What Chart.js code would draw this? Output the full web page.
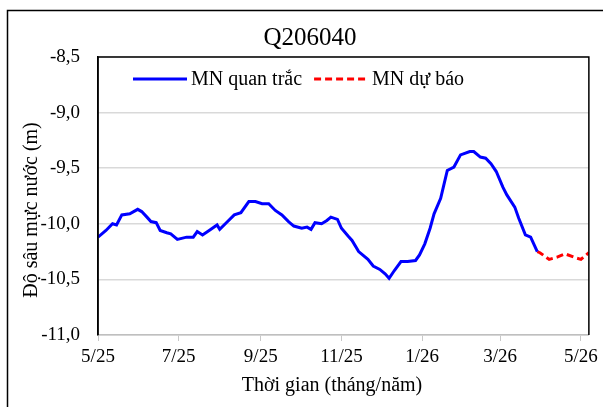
<!DOCTYPE html>
<html>
<head>
<meta charset="utf-8">
<script src="https://cdn.jsdelivr.net/npm/chart.js@4.4.0/dist/chart.umd.min.js"></script>
<style>
  html, body { margin: 0; padding: 0; background: #fff; }
</style>
</head>
<body>
<canvas id="chart" width="603" height="407"></canvas>
<script>
// so ngay tinh tu 1/5/2025
const obsDays = [0, 6, 11, 14, 18, 24, 30, 33, 37, 40, 44, 47, 52, 55, 60, 67, 72, 75, 79, 84,
  90, 92, 97, 103, 108, 114, 119, 124, 129, 134, 139, 144, 148, 154, 158, 161, 164, 169, 173, 176,
  181, 184, 189, 192, 197, 204, 208, 213, 217, 220, 224, 229, 234, 240, 243, 247, 251, 254, 259, 261,
  264, 269, 274, 281, 284, 289, 293, 297, 301, 306, 309, 315, 318, 323, 327, 332];
const obsValues = [-10.12, -10.06, -10.00, -10.01, -9.92, -9.91, -9.87, -9.89, -9.94, -9.98, -9.99, -10.06, -10.08, -10.09, -10.14, -10.12, -10.12, -10.07, -10.10, -10.06,
  -10.01, -10.05, -9.99, -9.92, -9.90, -9.80, -9.80, -9.82, -9.82, -9.88, -9.92, -9.98, -10.02, -10.04, -10.03, -10.05, -9.99, -10.00, -9.97, -9.94,
  -9.96, -10.04, -10.11, -10.15, -10.25, -10.32, -10.38, -10.41, -10.45, -10.49, -10.42, -10.34, -10.34, -10.33, -10.28, -10.18, -10.04, -9.91, -9.77, -9.67,
  -9.52, -9.49, -9.38, -9.35, -9.35, -9.40, -9.41, -9.46, -9.53, -9.67, -9.74, -9.85, -9.95, -10.10, -10.12, -10.25];

const fcDays = [332, 334, 341, 347, 353, 362, 365, 371];
const fcValues = [-10.25, -10.26, -10.32, -10.30, -10.27, -10.31, -10.32, -10.26];

const tickDays = [0, 61, 123, 184, 245, 304, 365];
const tickLabels = ["5/25", "7/25", "9/25", "11/25", "1/26", "3/26", "5/26"];
const seriesNames = ["MN quan trắc", "MN dự báo"];

const chartTitle = "Q206040";
const xTitle = "Thời gian (tháng/năm)";
const yTitle = "Độ sâu mực nước (m)";

const FONT = "'Liberation Serif', 'Times New Roman', serif";

function toPoints(days, vals) {
  return days.map((d, i) => ({ x: d, y: vals[i] }));
}

// khung, tieu de, chu thich
const decor = {
  id: "decor",
  beforeDraw(chart) {
    const c = chart.ctx;
    c.save();
    c.strokeStyle = "#000";
    c.lineWidth = 1.5;
    c.beginPath();
    c.moveTo(7.5, 407);
    c.lineTo(7.5, 10.5);
    c.lineTo(603, 10.5);
    c.stroke();
    c.restore();
  },
  afterDraw(chart) {
    const c = chart.ctx;
    const a = chart.chartArea;
    c.save();
    c.strokeStyle = "#000";
    c.lineWidth = 1.5;
    c.beginPath();
    c.moveTo(a.left, a.bottom);
    c.lineTo(a.left, a.top);
    c.lineTo(a.right, a.top);
    c.lineTo(a.right, a.bottom);
    c.stroke();

    c.fillStyle = "#000";
    c.textAlign = "center";
    c.textBaseline = "middle";
    c.font = "25px " + FONT;
    c.fillText(chartTitle, 310, 38);
    c.font = "20px " + FONT;
    c.fillText(xTitle, 332, 386);

    // chu thich
    c.textAlign = "left";
    let x = 133;
    const y = 79;
    chart.data.datasets.forEach(ds => {
      c.strokeStyle = ds.borderColor;
      c.lineWidth = ds.borderWidth;
      c.setLineDash(ds.borderDash || []);
      c.beginPath();
      c.moveTo(x, y);
      c.lineTo(x + 54, y);
      c.stroke();
      c.setLineDash([]);
      x += 58;
      c.fillText(ds.label, x, y + 1);
      x += c.measureText(ds.label).width + 12;
    });

    c.translate(32, 210);
    c.rotate(-Math.PI / 2);
    c.textAlign = "center";
    c.fillText(yTitle, 0, 0);
    c.restore();
  }
};

new Chart(document.getElementById("chart"), {
  type: "line",
  data: {
    datasets: [
      {
        label: seriesNames[0],
        data: toPoints(obsDays, obsValues),
        borderColor: "#0000ff",
        borderWidth: 3,
        pointRadius: 0,
        tension: 0
      },
      {
        label: seriesNames[1],
        data: toPoints(fcDays, fcValues),
        borderColor: "#ff0000",
        borderWidth: 3,
        borderDash: [7, 4],
        pointRadius: 0,
        tension: 0
      }
    ]
  },
  options: {
    responsive: false,
    animation: false,
    devicePixelRatio: 1,
    layout: { padding: { left: 8, top: 57, right: 11, bottom: 0 } },
    plugins: {
      legend: { display: false },
      title: { display: false },
      tooltip: { enabled: false }
    },
    scales: {
      x: {
        type: "linear",
        min: 0,
        max: 371,
        afterBuildTicks: s => { s.ticks = tickDays.map(v => ({ value: v })); },
        afterFit: s => { s.height = 72; },
        ticks: {
          color: "#000",
          font: { family: FONT, size: 19 },
          padding: 5,
          maxRotation: 0,
          autoSkip: false,
          callback: v => tickLabels[tickDays.indexOf(v)]
        },
        grid: { drawOnChartArea: false, drawTicks: true, tickLength: 6, color: "#c8c8c8" },
        border: { color: "#bfbfbf", width: 1.5 }
      },
      y: {
        min: -11,
        max: -8.5,
        afterFit: s => { s.width = 90; },
        ticks: {
          stepSize: 0.5,
          color: "#000",
          font: { family: FONT, size: 19 },
          padding: 18,
          callback: v => v.toFixed(1).replace(".", ",")
        },
        grid: { color: "#d9d9d9", lineWidth: 1.5, drawTicks: false },
        border: { color: "#000", width: 1.5 }
      }
    }
  },
  plugins: [decor]
});
</script>
</body>
</html>
